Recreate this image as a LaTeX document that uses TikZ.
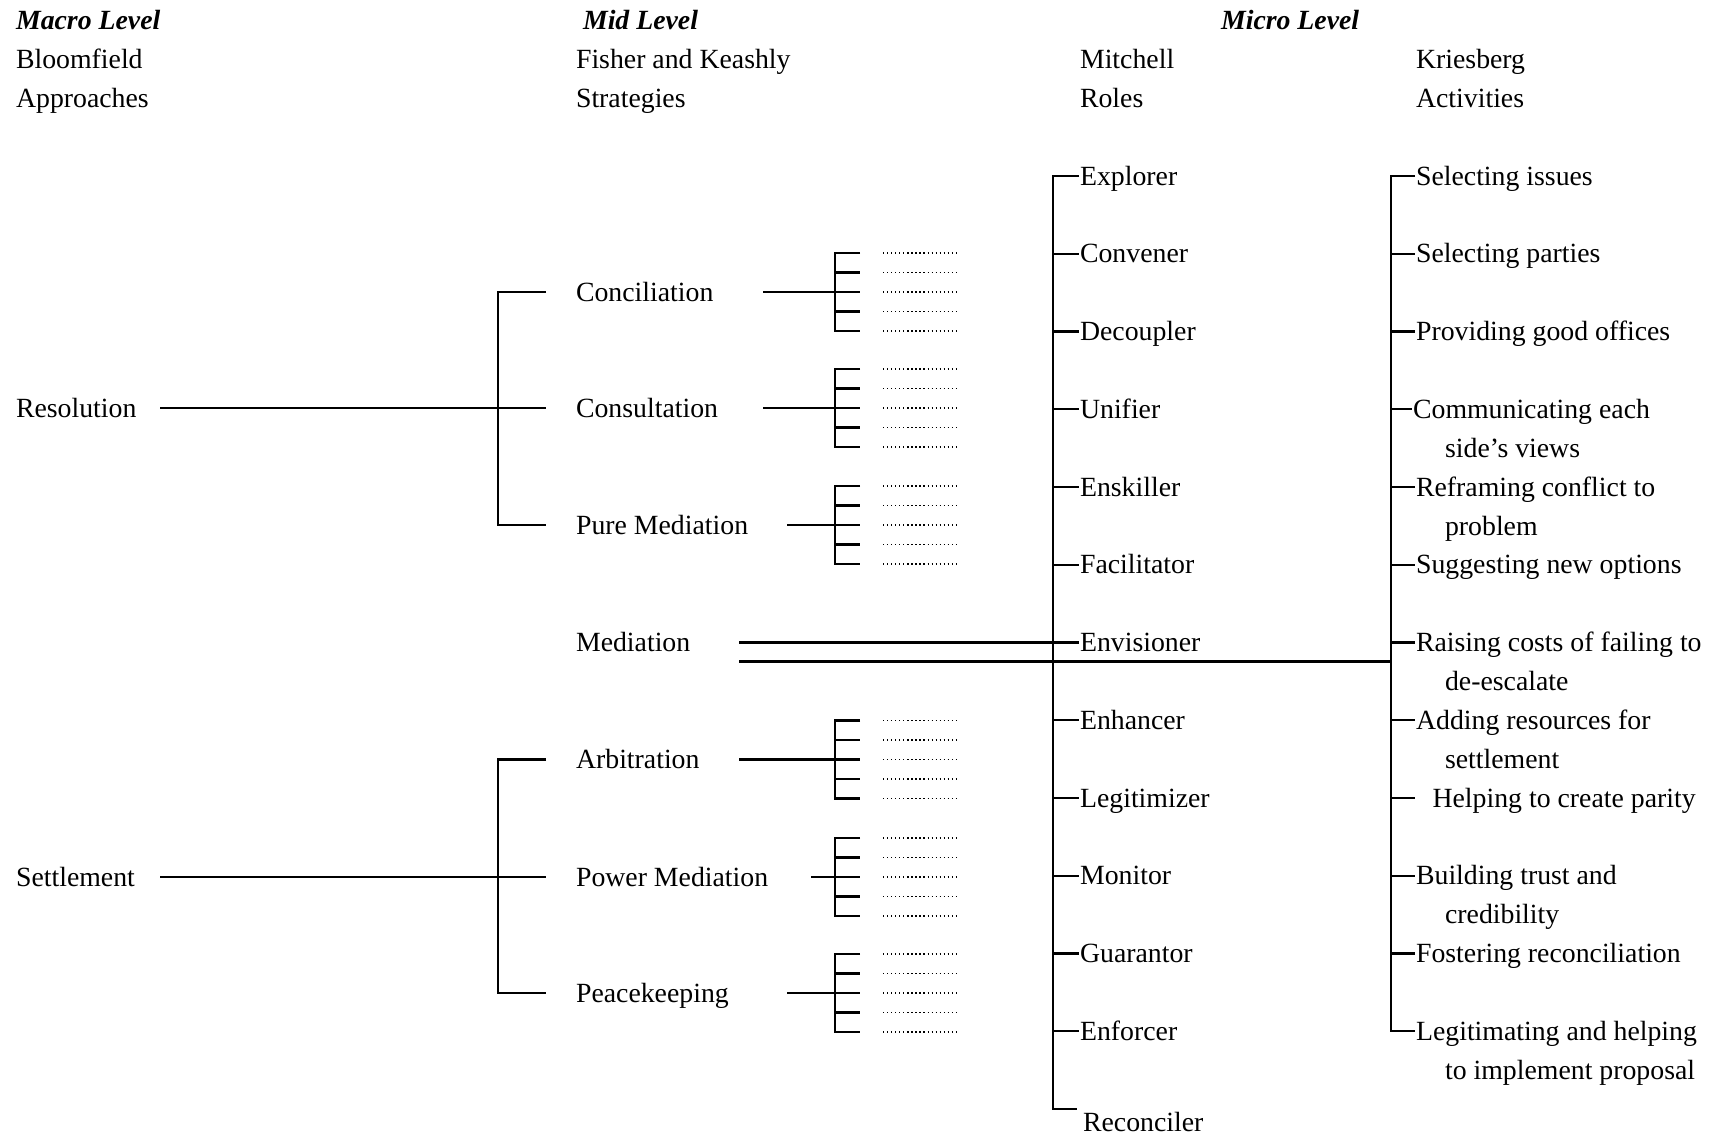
\documentclass[tikz,border=0pt]{standalone}
\usepackage{fontspec}
\setmainfont{Liberation Serif}
\usepackage{tikz}
\usetikzlibrary{positioning,calc}

\begin{document}
\begin{tikzpicture}[x=0.01cm, y=-0.01cm, line width=0.6pt,
    lbl/.style={anchor=west, inner sep=0pt, text height=5.2pt, text depth=0pt, font=\fontsize{7.9}{9.5}\selectfont},
    hdr/.style={lbl, font=\fontsize{7.9}{9.5}\selectfont\bfseries\itshape},
    dots/.style={line width=0.35pt, dash pattern=on 0.35pt off 0.8pt}]
    \useasboundingbox (0,0) rectangle (1716,1134);

    % headings
    \node[hdr] (macro) at (15,20) {Macro Level};
    \node[hdr] (mid) at (582,20) {Mid Level};
    \node[hdr] (micro) at (1220,20) {Micro Level};
    \node[lbl] (bloom) at (15,59) {Bloomfield};
    \node[lbl] (approach) at (15,98.5) {Approaches};
    \node[lbl] (fisher) at (575,59) {Fisher and Keashly};
    \node[lbl] (strat) at (575,98.5) {Strategies};
    \node[lbl] (mitchell) at (1079,59) {Mitchell};
    \node[lbl] (roles) at (1079,98.5) {Roles};
    \node[lbl] (kries) at (1415,59) {Kriesberg};
    \node[lbl] (acts) at (1415,98.5) {Activities};

    % macro level
    \node[lbl] (resol) at (15,408) {Resolution};
    \node[lbl] (settle) at (15,877) {Settlement};

    % mid level
    \node[lbl] (concil) at (575,292) {Conciliation};
    \node[lbl] (consult) at (575,408) {Consultation};
    \node[lbl] (puremed) at (575,525) {Pure Mediation};
    \node[lbl] (med) at (575,642) {Mediation};
    \node[lbl] (arbit) at (575,759.5) {Arbitration};
    \node[lbl] (powmed) at (575,877) {Power Mediation};
    \node[lbl] (peacek) at (575,993) {Peacekeeping};

    \coordinate (resStart) at (160,408);
    \coordinate (setStart) at (160,877);
    \draw (resStart) -- ($(consult.west)+(-29,0)$);
    \draw ($(concil.west)+(-29,0)$) -| ($(puremed.west)+(-77,0)$) -- ($(puremed.west)+(-29,0)$);
    \draw (setStart) -- ($(powmed.west)+(-29,0)$);
    \draw ($(arbit.west)+(-29,0)$) -| ($(peacek.west)+(-77,0)$) -- ($(peacek.west)+(-29,0)$);

    % fans
    \foreach \y/\x in {292/763, 408/763, 525/787, 759.5/739, 877/811, 993/787} {
        \draw (\x,\y) -- (835,\y);
        \draw (860,\y-39) -| (835,\y+39) -- (860,\y+39);
        \foreach \d in {-19.5,0,19.5} \draw (835,\y+\d) -- (860,\y+\d);
        \foreach \d in {-39,-19.5,0,19.5,39} \draw[dots] (883,\y+\d) -- (957,\y+\d);
    }

    % roles
    \node[lbl] (explorer) at (1079,176) {Explorer};
    \node[lbl] (convener) at (1079,253.75) {Convener};
    \node[lbl] (decoupler) at (1079,331.5) {Decoupler};
    \node[lbl] (unifier) at (1079,409.25) {Unifier};
    \node[lbl] (enskiller) at (1079,487) {Enskiller};
    \node[lbl] (facil) at (1079,564.75) {Facilitator};
    \node[lbl] (envision) at (1079,642.5) {Envisioner};
    \node[lbl] (enhancer) at (1079,720.25) {Enhancer};
    \node[lbl] (legit) at (1079,798) {Legitimizer};
    \node[lbl] (monitor) at (1079,875.75) {Monitor};
    \node[lbl] (guarant) at (1079,953.5) {Guarantor};
    \node[lbl] (enforcer) at (1079,1031.25) {Enforcer};
    \node[lbl] (reconc) at (1082,1122) {Reconciler};

    \coordinate (roleBus) at (1053,1109);
    \coordinate (roleEnd) at (1077,1109);
    \draw (explorer.west) -| (roleBus) -- (roleEnd);
    \foreach \n in {convener,decoupler,unifier,enskiller,facil,envision,enhancer,legit,monitor,guarant,enforcer}
        \draw (\n.west -| roleBus) -- (\n.west);

    % activities
    \node[lbl] (a0) at (1415,176) {Selecting issues};
    \node[lbl] (a1) at (1415,253.75) {Selecting parties};
    \node[lbl] (a2) at (1415,331.5) {Providing good offices};
    \node[lbl] (a3) at (1412,409.25) {Communicating each};
    \node[lbl] (a3b) at (1444,448.25) {side's views};
    \node[lbl] (a4) at (1415,487) {Reframing conflict to};
    \node[lbl] (a4b) at (1444,526) {problem};
    \node[lbl] (a5) at (1415,564.75) {Suggesting new options};
    \node[lbl] (a6) at (1415,642.5) {Raising costs of failing to};
    \node[lbl] (a6b) at (1444,681.5) {de-escalate};
    \node[lbl] (a7) at (1415,720.25) {Adding resources for};
    \node[lbl] (a7b) at (1444,759.25) {settlement};
    \node[lbl] (a8) at (1431.5,798) {Helping to create parity};
    \node[lbl] (a9) at (1415,875.75) {Building trust and};
    \node[lbl] (a9b) at (1444,914.75) {credibility};
    \node[lbl] (a10) at (1415,953.5) {Fostering reconciliation};
    \node[lbl] (a11) at (1415,1031.25) {Legitimating and helping};
    \node[lbl] (a11b) at (1444,1070.25) {to implement proposal};

    \coordinate (actBus) at (1391,1031.25);
    \draw (a0.west) -| (actBus) -- (a11.west);
    \foreach \n in {a1,a2,a3,a4,a5,a6,a7,a9,a10}
        \draw (\n.west -| actBus) -- (\n.west);
    \draw (a8.west -| actBus) -- ++(24,0);

    % mediation
    \coordinate (medTop) at (739,642.5);
    \coordinate (medLow) at (739,661.5);
    \draw (medTop) -- (envision.west);
    \draw (medLow) -- (medLow -| actBus);
\end{tikzpicture}
\end{document}
